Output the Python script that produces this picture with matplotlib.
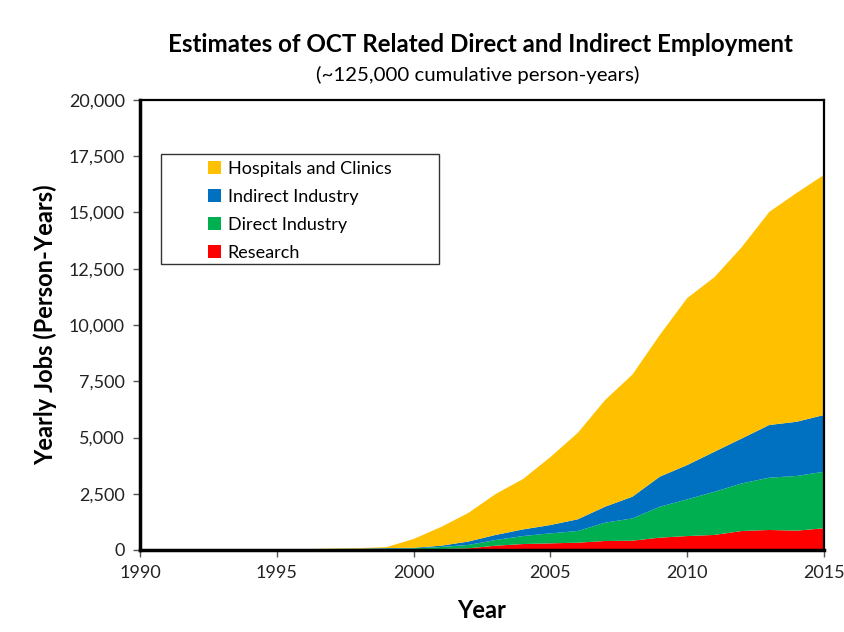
import matplotlib
matplotlib.use("Agg")
import matplotlib.pyplot as plt
from matplotlib.patches import Patch, Rectangle
from matplotlib.ticker import FuncFormatter
import numpy as np

plt.rcParams['font.family'] = ['Lato', 'DejaVu Sans']

years = list(range(1990, 2016))
research = [0, 0, 0, 0, 0, 5, 10, 15, 20, 25, 30, 45, 75, 190, 265, 295, 325, 400, 415, 550,
            620, 670, 845, 890, 860, 965]
direct = [0, 0, 0, 0, 0, 5, 10, 15, 20, 30, 45, 90, 150, 255, 355, 445, 520, 815, 990, 1375,
          1630, 1920, 2115, 2325, 2430, 2515]
indirect = [0, 0, 0, 0, 0, 5, 10, 15, 20, 30, 25, 55, 150, 225, 295, 370, 520, 710, 965, 1335,
            1525, 1780, 2000, 2340, 2410, 2520]
hospitals = [0, 0, 0, 0, 0, 5, 10, 15, 25, 40, 390, 830, 1270, 1820, 2240, 3020, 3840, 4740,
             5430, 6300, 7420, 7760, 8510, 9470, 10170, 10670]
series_names = ["Research", "Direct Industry", "Indirect Industry", "Hospitals and Clinics"]
colors = ["#FF0000", "#00B050", "#0070C0", "#FFC000"]
yticks = [0, 2500, 5000, 7500, 10000, 12500, 15000, 17500, 20000]
xticks = [1990, 1995, 2000, 2005, 2010, 2015]

fig = plt.figure(figsize=(8.44, 6.32), dpi=100)
ax = fig.add_axes([140/844, 82/632, 684/844, 450/632])
ax.stackplot(years, research, direct, indirect, hospitals, colors=colors, linewidth=0)
ax.set_xlim(1990, 2015)
ax.set_ylim(0, 20000)
ax.set_xticks(xticks)
ax.set_yticks(yticks)
ax.yaxis.set_major_formatter(FuncFormatter(lambda v, p: f"{int(v):,}"))
ax.tick_params(axis='both', direction='out', length=5, width=1, color='#555555',
               labelsize=13, labelcolor='#222222', pad=6)
for s in ['left', 'bottom']:
    ax.spines[s].set_linewidth(2.5)
for s in ['top', 'right']:
    ax.spines[s].set_linewidth(1.6)
for s in ax.spines.values():
    s.set_color('black')
    s.set_zorder(5)

ax.set_xlabel("Year", fontsize=17, fontweight='bold', labelpad=13)
ax.set_ylabel("Yearly Jobs (Person-Years)", fontsize=17, fontweight='bold', labelpad=8)

fig.text(480/844, 1 - 45/632, "Estimates of OCT Related Direct and Indirect Employment",
         ha='center', va='center', fontsize=17.4, fontweight='bold')
fig.text(478/844, 1 - 75/632, "(~125,000 cumulative person-years)",
         ha='center', va='center', fontsize=14.7)

# legend box
x0 = (161 - 140) / 684
y0 = (550 - 264) / 450
w = (439 - 161) / 684
h = (264 - 154) / 450
ax.add_patch(Rectangle((x0, y0), w, h, transform=ax.transAxes, facecolor='white',
                       edgecolor='#333333', linewidth=1, zorder=6))
handles = [Patch(facecolor=c, edgecolor='none') for c in colors[::-1]]
leg = ax.legend(handles, series_names[::-1], loc='upper left',
                bbox_to_anchor=((208 - 140) / 684, (550 - 161) / 450),
                frameon=False, fontsize=13, handlelength=0.7, handleheight=0.7,
                handletextpad=0.4, labelspacing=0.66, borderaxespad=0, borderpad=0)
leg.set_zorder(7)

fig.savefig("out.png", dpi=100)
